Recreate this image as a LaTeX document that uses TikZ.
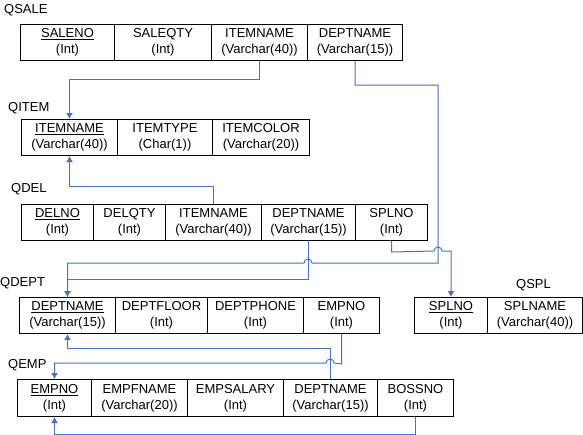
\documentclass[tikz,border=0pt]{standalone}
\usepackage{fontspec}
\setmainfont{Liberation Sans}
\usepackage{tikz}
\usetikzlibrary{arrows.meta}

\definecolor{linkblue}{RGB}{68,114,196}

\begin{document}
\begin{tikzpicture}[x=1pt,y=-1pt,
    field/.style={draw, line width=1pt, minimum height=36pt, inner sep=0pt,
        align=center, anchor=north west, font=\fontsize{13}{16}\selectfont},
    tabname/.style={anchor=west, inner sep=0pt, font=\fontsize{13}{16}\selectfont},
    fk/.style={draw=linkblue, line width=1pt, -{Latex[length=6pt,width=7pt]}}]
    \useasboundingbox (0,0) rectangle (583,434);

    % QSALE
    \node[tabname] (qsale) at (4,10) {QSALE};
    \node[field, minimum width=94pt] (sale1) at (20,24) {\underline{SALENO}\\(Int)};
    \node[field, minimum width=97pt] (sale2) at (114,24) {SALEQTY\\(Int)};
    \node[field, minimum width=96pt] (sale3) at (211,24) {ITEMNAME\\(Varchar(40))};
    \node[field, minimum width=95pt] (sale4) at (307,24) {DEPTNAME\\(Varchar(15))};

    % QITEM
    \node[tabname] (qitem) at (8,108) {QITEM};
    \node[field, minimum width=96pt] (item1) at (21,119) {\underline{ITEMNAME}\\(Varchar(40))};
    \node[field, minimum width=95pt] (item2) at (117,119) {ITEMTYPE\\(Char(1))};
    \node[field, minimum width=97pt] (item3) at (212,119) {ITEMCOLOR\\(Varchar(20))};

    % QDEL
    \node[tabname] (qdel) at (11,189) {QDEL};
    \node[field, minimum width=72pt] (del1) at (21,204) {\underline{DELNO}\\(Int)};
    \node[field, minimum width=72pt] (del2) at (93,204) {DELQTY\\(Int)};
    \node[field, minimum width=96pt] (del3) at (165,204) {ITEMNAME\\(Varchar(40))};
    \node[field, minimum width=94pt] (del4) at (261,204) {DEPTNAME\\(Varchar(15))};
    \node[field, minimum width=72pt] (del5) at (355,204) {SPLNO\\(Int)};

    % QDEPT
    \node[tabname] (qdept) at (0,283) {QDEPT};
    \node[field, minimum width=96pt] (dept1) at (19,297) {\underline{DEPTNAME}\\(Varchar(15))};
    \node[field, minimum width=92pt] (dept2) at (115,297) {DEPTFLOOR\\(Int)};
    \node[field, minimum width=96pt] (dept3) at (207,297) {DEPTPHONE\\(Int)};
    \node[field, minimum width=76pt] (dept4) at (303,297) {EMPNO\\(Int)};

    % QSPL
    \node[tabname] (qspl) at (516,285) {QSPL};
    \node[field, minimum width=73pt] (spl1) at (414,297) {\underline{SPLNO}\\(Int)};
    \node[field, minimum width=95pt] (spl2) at (487,297) {SPLNAME\\(Varchar(40))};

    % QEMP
    \node[tabname] (qemp) at (8,365) {QEMP};
    \node[field, minimum width=74pt, minimum height=37pt] (emp1) at (17,379) {\underline{EMPNO}\\(Int)};
    \node[field, minimum width=96pt, minimum height=37pt] (emp2) at (91,379) {EMPFNAME\\(Varchar(20))};
    \node[field, minimum width=96pt, minimum height=37pt] (emp3) at (187,379) {EMPSALARY\\(Int)};
    \node[field, minimum width=94pt, minimum height=37pt] (emp4) at (283,379) {DEPTNAME\\(Varchar(15))};
    \node[field, minimum width=76pt, minimum height=37pt] (emp5) at (377,379) {BOSSNO\\(Int)};

    % Foreign keys
    \draw[fk] (sale3.south) -- ++(0,18) -| (item1.north);
    \draw[fk] (sale4.south) -- ++(0,24) -| (438,263) -- (312,263)
        arc[start angle=0,end angle=180,radius=4pt] -| (dept1.north);
    \draw[fk] (del4.south) -- ++(0,38) -| (dept1.north);
    \draw[fk] (del3.north) -- ++(0,-18) -| (item1.south);
    \draw[fk] (del5.south) -- ++(0,11) -- (434,251)
        arc[start angle=180,end angle=0,radius=4pt] -| (spl1.north);
    \draw[fk] (dept4.south) -- ++(0,30) -- (334,363)
        arc[start angle=0,end angle=180,radius=4pt] -| (emp1.north);
    \draw[fk] (emp4.north) -- ++(0,-31) -| (dept1.south);
    \draw[fk] (emp5.south) -- ++(0,17) -| (emp1.south);
\end{tikzpicture}
\end{document}
